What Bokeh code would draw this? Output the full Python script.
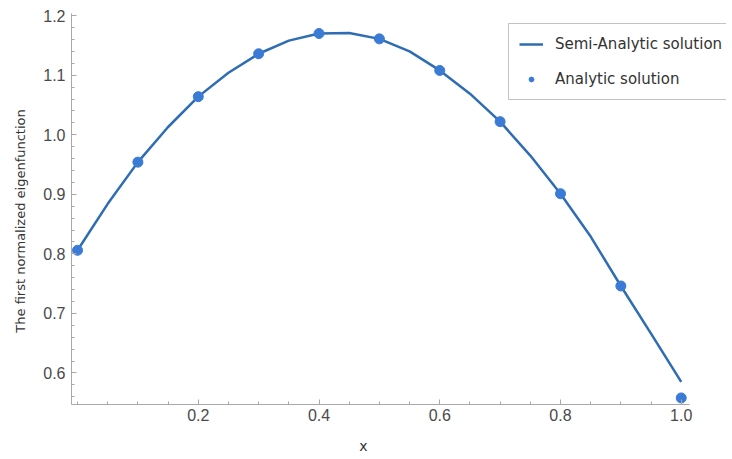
from bokeh.plotting import figure
from bokeh.models import FixedTicker, Legend, LegendItem, Range1d, PrintfTickFormatter
from bokeh.embed import file_html
from bokeh.resources import INLINE

# Analytic solution (points)
x_pts = [0.0, 0.1, 0.2, 0.3, 0.4, 0.5, 0.6, 0.7, 0.8, 0.9, 1.0]
y_pts = [0.806, 0.954, 1.064, 1.136, 1.170, 1.161, 1.108, 1.022, 0.901, 0.746, 0.558]

# Semi-analytic solution (curve samples)
x_curve = [0.0, 0.05, 0.1, 0.15, 0.2, 0.25, 0.3, 0.35, 0.4, 0.45, 0.5,
           0.55, 0.6, 0.65, 0.7, 0.75, 0.8, 0.85, 0.9, 0.95, 1.0]
y_curve = [0.806, 0.884, 0.954, 1.013, 1.064, 1.104, 1.136, 1.158, 1.170, 1.171, 1.161,
           1.140, 1.108, 1.069, 1.022, 0.965, 0.901, 0.829, 0.746, 0.666, 0.585]

x_major = [0.2, 0.4, 0.6, 0.8, 1.0]
x_minor = [0.0, 0.05, 0.1, 0.15, 0.25, 0.3, 0.35, 0.45, 0.5, 0.55, 0.65, 0.7, 0.75, 0.85, 0.9, 0.95]
y_major = [0.6, 0.7, 0.8, 0.9, 1.0, 1.1, 1.2]
y_minor = [0.56, 0.58, 0.62, 0.64, 0.66, 0.68, 0.72, 0.74, 0.76, 0.78, 0.82, 0.84, 0.86, 0.88,
           0.92, 0.94, 0.96, 0.98, 1.02, 1.04, 1.06, 1.08, 1.12, 1.14, 1.16, 1.18]

LINE = "#2E6DB4"
DOT = "#3A7BD5"
AXIS = "#A8A8A8"

p = figure(width=728, height=455, frame_width=655, frame_height=396,
           min_border_left=71, min_border_right=2, min_border_top=8, min_border_bottom=51,
           x_range=Range1d(-0.01, 1.075), y_range=Range1d(0.547, 1.212),
           output_backend="svg", toolbar_location=None)
p.outline_line_color = None
p.grid.visible = False
p.background_fill_color = "white"
p.border_fill_color = "white"

line_r = p.line(x_curve, y_curve, line_color=LINE, line_width=2.5)
dot_r = p.scatter(x_pts, y_pts, size=10, fill_color=DOT, line_color=DOT)

xa = p.xaxis[0]
ya = p.yaxis[0]
xa.bounds = (-0.01, 1.013)
ya.bounds = (0.547, 1.203)
xa.ticker = FixedTicker(ticks=x_major, minor_ticks=x_minor)
ya.ticker = FixedTicker(ticks=y_major, minor_ticks=y_minor)
for ax in (xa, ya):
    ax.formatter = PrintfTickFormatter(format="%.1f")
    ax.axis_line_color = AXIS
    ax.major_tick_line_color = AXIS
    ax.minor_tick_line_color = AXIS
    ax.major_tick_in = 5
    ax.major_tick_out = 0
    ax.minor_tick_in = 3
    ax.minor_tick_out = 0
    ax.major_label_text_font = "Liberation Sans"
    ax.major_label_text_font_size = "16px"
    ax.major_label_text_color = "#4a4a4a"
    ax.axis_label_text_font = "DejaVu Sans"
    ax.axis_label_text_font_size = "13px"
    ax.axis_label_text_font_style = "normal"
    ax.axis_label_text_color = "#333333"
xa.major_label_standoff = 4
ya.major_label_standoff = 6
xa.axis_label = "x" + "\u00a0" * 16
xa.axis_label_text_font_size = "14px"
xa.axis_label_standoff = 14
ya.axis_label = "The first normalized eigenfunction" + "\u00a0" * 7
ya.axis_label_standoff = 12

legend = Legend(items=[LegendItem(label="Semi-Analytic solution", renderers=[line_r]),
                       LegendItem(label="Analytic solution", renderers=[dot_r])],
                location=(437, 304))
legend.label_text_font = "DejaVu Sans"
legend.label_text_font_size = "15px"
legend.label_text_color = "#333333"
legend.border_line_color = "#888888"
legend.border_line_width = 1
legend.background_fill_color = "white"
legend.background_fill_alpha = 1
legend.padding = 10
legend.spacing = 15
legend.label_height = 20
legend.glyph_height = 12
legend.glyph_width = 24
legend.label_standoff = 12
legend.margin = 0
p.add_layout(legend, "center")

open("out.html", "w").write(file_html(p, INLINE))
